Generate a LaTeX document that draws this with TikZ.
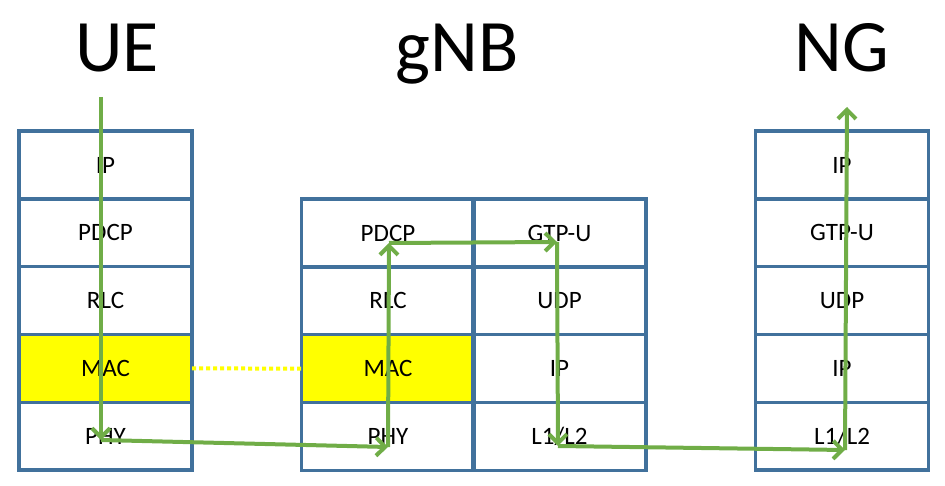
\documentclass[tikz,border=0pt]{standalone}
\usepackage{fontspec}
\setmainfont{Carlito}
\usetikzlibrary{positioning,arrows.meta}
\definecolor{stackblue}{RGB}{65,113,156}
\definecolor{flowgreen}{RGB}{112,173,71}
\definecolor{macyellow}{RGB}{255,255,0}

\begin{document}
\begin{tikzpicture}[x=1pt,y=-1pt,
  layer/.style={draw=stackblue, line width=3.5pt, minimum width=173pt, minimum height=67.8pt,
    inner sep=0pt, outer sep=0pt, font=\fontsize{25}{30}\selectfont},
  mac/.style={layer, fill=macyellow},
  title/.style={font=\fontsize{74}{80}\selectfont, anchor=base},
  flow/.style={flowgreen, line width=4pt, -{Straight Barb[length=9pt,width=18pt]}}]
\useasboundingbox (0,0) rectangle (945,486);
%----------------------------------
\node[title] (ue) at (117,72) {UE};
\node[title] (gnb) at (457,72) {gNB};
\node[title] (ng) at (842,72) {NG};
%----------------------------------
\node[layer] (ue-ip) at (105.5,165) {IP};
\node[layer, below=0pt of ue-ip] (ue-pdcp) {PDCP};
\node[layer, below=0pt of ue-pdcp] (ue-rlc) {RLC};
\node[mac, below=0pt of ue-rlc] (ue-mac) {MAC};
\node[layer, below=0pt of ue-mac] (ue-phy) {PHY};
%----------------------------------
\node[layer] (gnb-pdcp) at (388,233) {PDCP};
\node[layer, below=0pt of gnb-pdcp] (gnb-rlc) {RLC};
\node[mac, below=0pt of gnb-rlc] (gnb-mac) {MAC};
\node[layer, below=0pt of gnb-mac] (gnb-phy) {PHY};
\node[layer, right=-1.5pt of gnb-pdcp] (gnb-gtp) {GTP-U};
\node[layer, below=0pt of gnb-gtp] (gnb-udp) {UDP};
\node[layer, below=0pt of gnb-udp] (gnb-ip) {IP};
\node[layer, below=0pt of gnb-ip] (gnb-l12) {L1/L2};
%----------------------------------
\node[layer] (ng-ip) at (842,165) {IP};
\node[layer, below=0pt of ng-ip] (ng-gtp) {GTP-U};
\node[layer, below=0pt of ng-gtp] (ng-udp) {UDP};
\node[layer, below=0pt of ng-udp] (ng-ipb) {IP};
\node[layer, below=0pt of ng-ipb] (ng-l12) {L1/L2};
%----------------------------------
\draw[macyellow, line width=4pt, dash pattern=on 4pt off 3pt] (ue-mac) -- (gnb-mac);
%----------------------------------
\coordinate (ue-start) at (101,97);
\coordinate (ue-in) at (101,440);
\coordinate (gnb-in) at (388,447);
\coordinate (gnb-out) at (389,243);
\coordinate (gtp-in) at (557,242);
\coordinate (l12-in) at (558,446);
\coordinate (ng-in) at (845,450);
\coordinate (ng-end) at (847,107);
\draw[flow] (ue-start) -- (ue-in);
\draw[flow] (ue-in) -- (gnb-in);
\draw[flow] (gnb-in) -- (gnb-out);
\draw[flow] (gnb-out) -- (gtp-in);
\draw[flow] (gtp-in) -- (l12-in);
\draw[flow] (l12-in) -- (ng-in);
\draw[flow] (ng-in) -- (ng-end);
\end{tikzpicture}
\end{document}
